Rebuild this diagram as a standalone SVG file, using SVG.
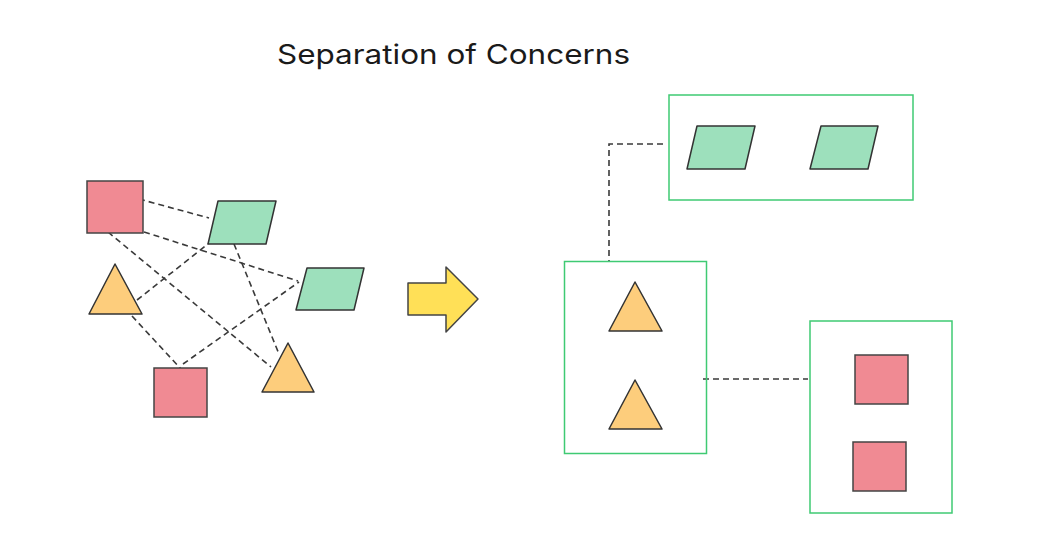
<svg xmlns="http://www.w3.org/2000/svg" width="1062" height="559" viewBox="0 0 1062 559">
<style>
.red{fill:#f08a93;stroke:#444;stroke-width:1.5}
.grn{fill:#9de0bc;stroke:#333;stroke-width:1.5;stroke-linejoin:round}
.org{fill:#fdcd7c;stroke:#333;stroke-width:1.5;stroke-linejoin:round}
.box{fill:none;stroke:#3fca73;stroke-width:1.5}
.dash{fill:none;stroke:#3a3a3a;stroke-width:1.6;stroke-dasharray:6 4}
.title{font-family:Inter,"Noto Sans",sans-serif;font-size:27px;fill:#1a1a1a}
</style>
<rect width="1062" height="559" fill="#ffffff"/>
<text class="title" x="277" y="64" textLength="353" lengthAdjust="spacingAndGlyphs">Separation of Concerns</text>
<g id="connectors">
<line class="dash" x1="139" y1="199" x2="209" y2="218"/>
<line class="dash" x1="144" y1="232" x2="298" y2="281"/>
<line class="dash" x1="108" y1="232" x2="271" y2="367"/>
<line class="dash" x1="137" y1="300" x2="208" y2="244"/>
<line class="dash" x1="234" y1="244" x2="279" y2="354"/>
<line class="dash" x1="132" y1="316" x2="181" y2="369"/>
<line class="dash" x1="183" y1="364" x2="299" y2="282"/>
<polyline class="dash" points="663,144 609,144 609,261"/>
<line class="dash" x1="703" y1="379" x2="808" y2="379"/>
</g>
<g id="sq1"><rect class="red" x="87" y="181" width="56" height="52"/></g>
<g id="para1"><polygon class="grn" points="218,201 276,201 266,244 208,244"/></g>
<g id="para2"><polygon class="grn" points="307,268 364,268 354,310 296,310"/></g>
<g id="tri1"><polygon class="org" points="115,264 142,314 89,314"/></g>
<g id="sq2"><rect class="red" x="154" y="368" width="53" height="49"/></g>
<g id="tri2"><polygon class="org" points="288,343 314,392 262,392"/></g>
<g id="arrow"><polygon points="408,283 446,283 446,267 478,299 446,332 446,315 408,315" fill="#ffe057" stroke="#444" stroke-width="1.5" stroke-linejoin="round"/></g>
<g id="boxTop">
<rect class="box" x="669" y="95" width="244" height="105"/>
<polygon class="grn" points="697,126 755,126 745,169 687,169"/>
<polygon class="grn" points="821,126 878,126 868,169 810,169"/>
</g>
<g id="boxMid">
<rect class="box" x="564.5" y="261.5" width="142" height="192"/>
<polygon class="org" points="635,282 662,331 609,331"/>
<polygon class="org" points="635,380 662,429 609,429"/>
</g>
<g id="boxRight">
<rect class="box" x="810" y="321" width="142" height="192"/>
<rect class="red" x="855" y="355" width="53" height="49"/>
<rect class="red" x="853" y="442" width="53" height="49"/>
</g>
</svg>
